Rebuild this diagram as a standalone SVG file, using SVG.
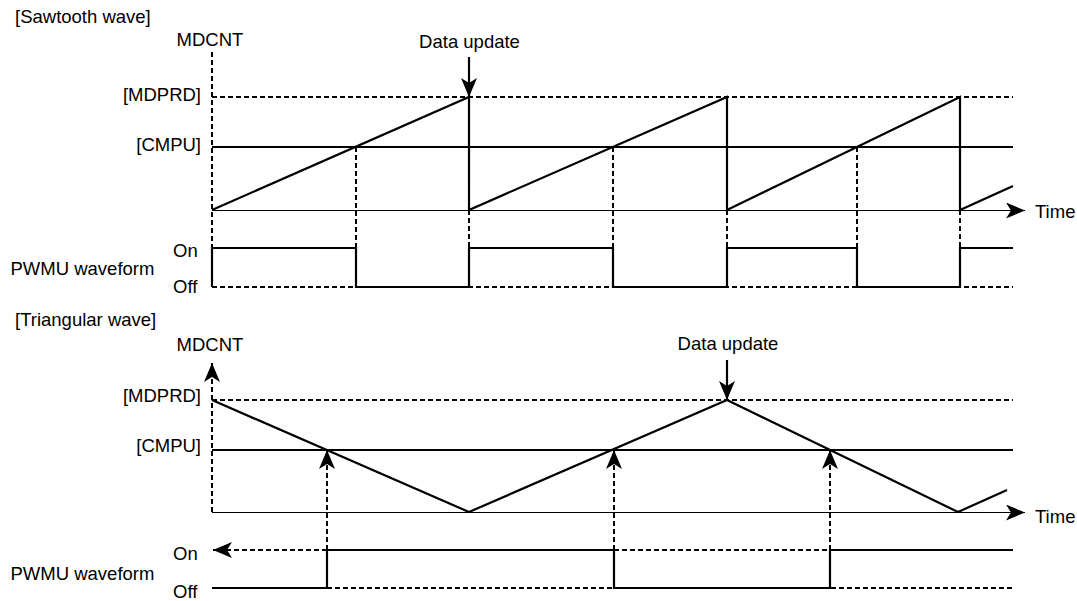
<svg xmlns="http://www.w3.org/2000/svg" width="1077" height="601" viewBox="0 0 1077 601">
<style>
text{font-family:"Liberation Sans",Arial,sans-serif;font-size:18.5px;fill:#000}
.e{text-anchor:end}
.m{text-anchor:middle}
.w{fill:none;stroke:#000;stroke-width:2.2;stroke-linejoin:miter}
.d{fill:none;stroke:#000;stroke-width:2;stroke-dasharray:5 3}
.t{fill:none;stroke:#000;stroke-width:1.2}
</style>
<defs>
<marker id="arr" markerUnits="userSpaceOnUse" markerWidth="20" markerHeight="16" viewBox="0 0 20 16" refX="19" refY="8" orient="auto">
<path d="M0,0 L19,8 L0,16 L5,8 Z" fill="#000"/>
</marker>
</defs>
<rect width="1077" height="601" fill="#fff"/>

<g id="sawtooth-labels">
<text x="15" y="22.5">[Sawtooth wave]</text>
<text class="m" x="210" y="45.5">MDCNT</text>
<text class="m" x="469.5" y="47.5">Data update</text>
<text class="e" x="201" y="100.5">[MDPRD]</text>
<text class="e" x="201" y="151">[CMPU]</text>
<text x="1035" y="218">Time</text>
<text x="173" y="257">On</text>
<text x="10.5" y="275">PWMU waveform</text>
<text x="173" y="293">Off</text>
</g>

<g id="sawtooth-axes">
<line class="d" x1="212" y1="52" x2="212" y2="248"/>
<line class="d" x1="212" y1="97" x2="1013" y2="97"/>
<line class="w" x1="212" y1="147" x2="1013" y2="147"/>
<line class="t" x1="212" y1="210.5" x2="1025" y2="210.5" marker-end="url(#arr)"/>
<line class="d" x1="212" y1="287" x2="1013" y2="287"/>
</g>

<g id="sawtooth-wave">
<path class="w" d="M212,210 L469,97 L469,210 L727,97 L727,210 L960,97 L960,210 L1013,186"/>
</g>

<g id="sawtooth-pwm">
<path class="w" d="M212,287 L212,248 L356,248 L356,287 L469,287 L469,248 L613,248 L613,287 L727,287 L727,248 L857,248 L857,287 L960,287 L960,248 L1013,248"/>
</g>

<g id="sawtooth-connectors">
<line class="d" x1="356" y1="147" x2="356" y2="248"/>
<line class="d" x1="469" y1="210" x2="469" y2="248"/>
<line class="d" x1="613" y1="147" x2="613" y2="248"/>
<line class="d" x1="727" y1="210" x2="727" y2="248"/>
<line class="d" x1="857" y1="147" x2="857" y2="248"/>
<line class="d" x1="960" y1="210" x2="960" y2="248"/>
<line class="w" x1="469" y1="57" x2="469" y2="97" marker-end="url(#arr)"/>
</g>

<g id="triangular-labels">
<text x="15" y="326">[Triangular wave]</text>
<text class="m" x="210" y="350.5">MDCNT</text>
<text class="m" x="728" y="350">Data update</text>
<text class="e" x="201" y="401.5">[MDPRD]</text>
<text class="e" x="201" y="452">[CMPU]</text>
<text x="1035" y="523">Time</text>
<text x="173" y="560">On</text>
<text x="10.5" y="580">PWMU waveform</text>
<text x="173" y="598">Off</text>
</g>

<g id="triangular-axes">
<line class="d" x1="212" y1="512" x2="212" y2="363" marker-end="url(#arr)"/>
<line class="d" x1="212" y1="400" x2="1013" y2="400"/>
<line class="w" x1="212" y1="450" x2="1013" y2="450"/>
<line class="t" x1="212" y1="512.5" x2="1025" y2="512.5" marker-end="url(#arr)"/>
<line class="d" x1="327" y1="588" x2="1013" y2="588"/>
<line class="d" x1="614" y1="550" x2="830" y2="550"/>
</g>

<g id="triangular-wave">
<path class="w" d="M212,400 L469,512 L727,400 L958,512 L1007,490"/>
</g>

<g id="triangular-pwm">
<path class="w" d="M212,588 L327,588 L327,550 L614,550 L614,588 L830,588 L830,550 L1013,550"/>
</g>

<g id="triangular-connectors">
<line class="d" x1="327" y1="550" x2="327" y2="450" marker-end="url(#arr)"/>
<line class="d" x1="614" y1="550" x2="614" y2="450" marker-end="url(#arr)"/>
<line class="d" x1="830" y1="550" x2="830" y2="450" marker-end="url(#arr)"/>
<line class="d" x1="327" y1="550" x2="213" y2="550" marker-end="url(#arr)"/>
<line class="w" x1="727" y1="360" x2="727" y2="400" marker-end="url(#arr)"/>
</g>
</svg>
